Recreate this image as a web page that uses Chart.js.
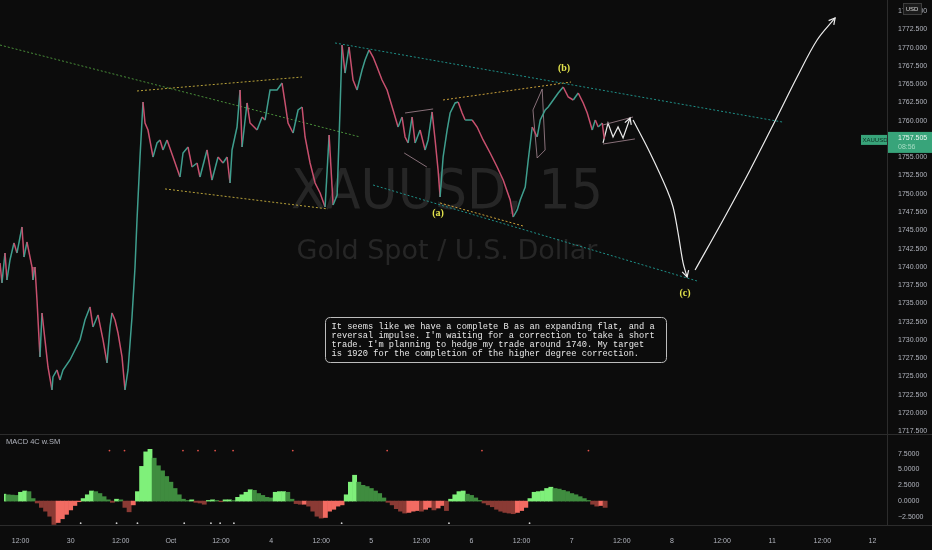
<!DOCTYPE html>
<html><head><meta charset="utf-8">
<script src="https://cdn.jsdelivr.net/npm/chart.js@4.4.1/dist/chart.umd.min.js"></script>
<style>
html,body{margin:0;padding:0;background:#0c0c0c;}
body{width:932px;height:550px;position:relative;overflow:hidden;}
canvas{position:absolute;left:0;}
#main{top:0;} #macd{top:434px;}
</style></head><body>
<canvas id="main" width="932" height="440"></canvas>
<canvas id="macd" width="932" height="116"></canvas>
<script>
// ---------- DATA ----------
// Price path (trading hours since Sep 29 00:00, price)
const priceHours = [8.04,8.51,9.23,9.70,10.42,11.37,12.09,13.28,13.76,14.47,15.67,15.90,16.38,16.86,17.57,18.05,18.76,19.48,20.43,20.67,21.63,22.34,23.06,24.72,27.11,28.30,29.49,30.21,31.40,32.60,33.55,34.27,34.74,35.46,36.17,37.13,37.84,38.56,39.51,40.23,40.70,41.42,42.13,42.61,43.32,44.52,45.47,46.19,46.90,47.86,49.29,50.95,51.67,52.86,53.82,55.01,55.72,57.39,58.58,60.02,61.21,62.17,62.88,63.36,64.55,65.27,65.74,66.94,67.65,69.32,70.51,71.23,72.42,74.09,75.28,76.00,76.71,77.91,79.10,80.06,80.77,81.96,83.16,84.35,85.54,86.50,87.45,88.41,89.10,89.58,90.30,91.25,92.21,93.16,94.35,95.07,96.02,96.98,97.93,99.12,100.32,101.75,102.94,103.89,104.61,105.33,106.28,107.00,108.19,109.38,110.10,111.05,111.77,112.48,112.96,113.68,114.63,115.35,116.54,117.26,118.21,118.93,120.60,121.79,123.22,124.89,126.56,128.00,129.67,130.39,131.34,132.06,133.25,133.97,134.92,136.11,136.83,138.02,138.74,139.93,141.12,142.31,143.51,144.70,145.89,147.08,148.04,149.23,149.95,150.66,151.62,152.10];
const priceClose = [1740.53,1737.80,1741.90,1738.20,1740.94,1743.27,1741.90,1745.45,1741.35,1743.40,1739.98,1738.20,1739.98,1735.47,1727.67,1733.69,1730.00,1726.30,1723.16,1724.93,1725.89,1724.52,1725.89,1727.26,1730.00,1732.73,1734.51,1731.78,1733.42,1730.00,1726.85,1731.78,1733.69,1732.73,1730.95,1727.67,1723.16,1725.89,1733.14,1739.98,1746.41,1755.03,1762.56,1759.68,1758.72,1755.03,1756.95,1757.36,1755.99,1757.36,1755.03,1752.29,1755.58,1756.40,1753.66,1754.21,1752.29,1755.99,1751.88,1755.03,1754.21,1755.03,1751.47,1755.99,1759.13,1764.20,1756.40,1762.42,1759.68,1758.72,1760.50,1760.09,1764.20,1764.20,1765.15,1762.42,1759.68,1758.31,1761.46,1761.87,1757.77,1754.21,1751.47,1750.11,1748.19,1758.04,1748.46,1749.83,1761.46,1770.35,1766.52,1770.08,1765.56,1764.20,1766.93,1768.30,1769.67,1768.71,1767.34,1765.56,1764.20,1761.46,1759.13,1760.50,1757.77,1756.95,1760.50,1756.95,1758.72,1755.99,1757.36,1761.19,1757.36,1753.25,1749.56,1755.03,1758.72,1761.05,1762.42,1762.56,1761.05,1760.09,1760.09,1759.13,1757.36,1755.58,1753.66,1751.88,1749.15,1746.82,1747.78,1749.15,1750.93,1754.62,1759.13,1757.77,1760.09,1761.46,1761.87,1762.83,1763.79,1764.61,1763.24,1762.83,1763.79,1762.42,1761.05,1758.72,1760.09,1759.13,1759.68,1757.50];
const lastPrice = 1757.505;
const lastTimer = '08:56';
const priceTicks = [1717.5,1720,1722.5,1725,1727.5,1730,1732.5,1735,1737.5,1740,1742.5,1745,1747.5,1750,1752.5,1755,1757.5,1760,1762.5,1765,1767.5,1770,1772.5,1775];

// Time axis
const timeTickHours = [12,24,36,48,60,72,84,96,108,120,132,144,156,168,180,192,204,216];
const timeLabels = ['12:00','30','12:00','Oct','12:00','4','12:00','5','12:00','6','12:00','7','12:00','8','12:00','11','12:00','12'];

// Drawn trend / channel lines
const channelLines = [
  {kind:'green',  h:[8.04,93.87],   p:[1770.35,1757.77]},
  {kind:'yellow', h:[40.70,80.04],  p:[1764.06,1765.97]},
  {kind:'yellow', h:[47.38,86.24],  p:[1750.66,1747.92]},
  {kind:'teal',   h:[87.91,194.5],  p:[1770.63,1759.82]},
  {kind:'teal',   h:[96.97,174.2],  p:[1751.20,1738.07]},
  {kind:'orange', h:[113.66,144.18],p:[1762.83,1765.29]},
  {kind:'orange', h:[112.95,132.74],p:[1748.74,1745.59]}
];
const boxLines = [
  {h:[104.6,111.3], p:[1761.05,1761.60]},
  {h:[104.4,109.8], p:[1755.58,1753.66]},
  {h:[135.1,137.3,138.0,136.1,135.1], p:[1761.46,1764.33,1755.99,1754.89,1761.46]},
  {h:[151.8,158.96], p:[1759.41,1760.50]},
  {h:[151.8,159.4],  p:[1756.81,1757.50]}
];
const projZigHours = [151.81,152.99,154.19,155.38,156.58,158.25];
const projZigPrices = [1756.95,1759.68,1757.77,1759.14,1757.63,1760.37];
const projDownHours = [158.96,163.02,167.07,168.5,169.69,170.89,171.84];
const projDownPrices = [1760.09,1755.58,1750.52,1748.19,1744.64,1740.53,1738.62];
const projUpHours = [173.75,180.43,186.86,193.30,198.07,202.84,207.13];
const projUpPrices = [1739.57,1746.41,1753.25,1760.50,1765.97,1771.04,1774.05];

const waveLabels = ['(a)','(b)','(c)'];
const waveHours = [112.47,142.5,171.36];
const wavePrices = [1747.37,1767.21,1736.43];

const noteLines = [
  "It seems like we have a complete B as an expanding flat, and a",
  "reversal impulse. I'm waiting for a correction to take a short",
  "trade. I'm planning to hedge my trade around 1740. My target",
  "is 1920 for the completion of the higher degree correction."
];

// MACD histogram (hourly, starting at hour 8)
const macdStartHour = 8;
const macdHist = [1.1,1.0,0.95,0.9,1.4,1.6,1.5,0.4,-0.3,-1.0,
 -1.6,-2.4,-3.7,-3.4,-2.8,-2.1,-1.4,-0.7,-0.1,0.4,
 1.0,1.6,1.5,1.2,0.7,0.2,-0.2,0.3,0.2,-1.0,
 -1.7,-0.6,1.5,5.5,7.8,8.2,6.8,5.6,4.8,3.9,
 3.0,2.0,1.0,0.3,0.1,0.2,-0.2,-0.3,-0.5,0.1,
 0.2,0.1,-0.1,0.2,0.2,0.1,0.6,1.0,1.4,1.8,
 1.7,1.2,0.9,0.6,0.5,1.4,1.5,1.5,1.4,0.3,
 -0.4,-0.5,-0.5,-0.8,-1.6,-2.4,-2.7,-2.6,-1.6,-1.3,
 -0.8,-0.6,1.0,3.0,4.1,3.0,2.5,2.3,2.0,1.6,
 1.2,0.5,-0.2,-0.6,-1.2,-1.6,-1.9,-1.8,-1.6,-1.5,
 -1.6,-1.3,-1.0,-1.4,-1.1,-0.7,-1.5,0.3,1.0,1.5,
 1.6,1.1,0.9,0.5,0.1,-0.3,-0.6,-0.9,-1.3,-1.6,
 -1.8,-1.9,-2.0,-1.8,-1.5,-1.0,0.4,1.4,1.5,1.6,
 2.0,2.2,2.0,1.9,1.7,1.5,1.2,1.0,0.7,0.4,
 0.1,-0.5,-0.8,-0.7,-1.0];
const macdTicks = [-2.5,0,2.5,5,7.5];
const sigTopHours = [33.3,36.9,50.9,54.5,58.6,62.9,77.2,99.8,122.5,148.0];
const sigBottomHours = [26.4,35.0,40.0,51.2,57.6,59.8,63.1,88.9,114.6,133.9];
const sigTopLevel = 8.0, sigBottomLevel = -3.5;

// ---------- STYLE ----------
const AXIS_TEXT = '#b2b5be';
const UP = '#3f9e8e', DOWN = '#c8506e';
const lineColors = {green:'#4a8f3a', yellow:'#b8a23a', teal:'#1f9088', orange:'#c9a03a'};
const LG='#7ff07a', DG='#3f8c3f', LR='#f26b62', DR='#8a3a34';
const X_MIN = 8.04, X_MAX = 219.5;
Chart.defaults.font.family = '"Liberation Sans", Arial, sans-serif';
Chart.defaults.color = AXIS_TEXT;

const pts = (hs, ps) => hs.map((h,i)=>({x:h, y:ps[i]}));

// ---------- MAIN CHART ----------
const mainDatasets = [];
mainDatasets.push({data: pts(priceHours, priceClose), borderWidth:1.5, pointRadius:0, tension:0,
  borderColor: UP, segment:{borderColor: c => c.p1.parsed.y >= c.p0.parsed.y ? UP : DOWN}});
channelLines.forEach(l => mainDatasets.push({data: pts(l.h,l.p), borderColor: lineColors[l.kind], borderWidth:1, borderDash:[2,2], pointRadius:0, tension:0}));
boxLines.forEach(l => mainDatasets.push({data: pts(l.h,l.p), borderColor:'#a88a96', borderWidth:0.8, pointRadius:0, tension:0}));
mainDatasets.push({data: pts(projZigHours, projZigPrices), borderColor:'#ececec', borderWidth:1.2, pointRadius:0, tension:0, arrowEnd:true});
mainDatasets.push({data: pts(projDownHours, projDownPrices), borderColor:'#ececec', borderWidth:1.2, pointRadius:0, tension:0.35, arrowEnd:true});
mainDatasets.push({data: pts(projUpHours, projUpPrices), borderColor:'#ececec', borderWidth:1.2, pointRadius:0, tension:0.35, arrowEnd:true});

function drawArrow(ctx, bx, by, ax, ay){
  const ang = Math.atan2(ay-by, ax-bx), L=7;
  ctx.beginPath();
  ctx.moveTo(ax - L*Math.cos(ang-0.5), ay - L*Math.sin(ang-0.5));
  ctx.lineTo(ax, ay);
  ctx.lineTo(ax - L*Math.cos(ang+0.5), ay - L*Math.sin(ang+0.5));
  ctx.stroke();
}
function rrect(ctx,x,y,w,h,r){
  ctx.beginPath(); ctx.moveTo(x+r,y); ctx.lineTo(x+w-r,y); ctx.quadraticCurveTo(x+w,y,x+w,y+r);
  ctx.lineTo(x+w,y+h-r); ctx.quadraticCurveTo(x+w,y+h,x+w-r,y+h); ctx.lineTo(x+r,y+h);
  ctx.quadraticCurveTo(x,y+h,x,y+h-r); ctx.lineTo(x,y+r); ctx.quadraticCurveTo(x,y,x+r,y); ctx.closePath();
}

const mainPlugin = {
  id:'mainOverlay',
  beforeDatasetsDraw(chart){
    const ctx = chart.ctx; ctx.save();
    ctx.fillStyle = '#262626'; ctx.textAlign='center'; ctx.textBaseline='middle';
    ctx.font = '56px "DejaVu Sans"'; ctx.fillText('XAUUSD, 15', 447, 193, 312);
    ctx.font = '27px "DejaVu Sans"'; ctx.fillText('Gold Spot / U.S. Dollar', 447, 252, 307);
    ctx.restore();
  },
  afterDraw(chart){
    const ctx = chart.ctx, xs = chart.scales.x, ys = chart.scales.y;
    ctx.save();
    // arrows
    ctx.strokeStyle = '#ececec'; ctx.lineWidth = 1.2;
    chart.data.datasets.forEach((ds,i)=>{
      if(!ds.arrowEnd) return;
      const d = chart.getDatasetMeta(i).data, a = d[d.length-1];
      let bx = d[d.length-2].x, by = d[d.length-2].y;
      if(ds.tension>0 && a.cp1x!==undefined && Math.hypot(a.cp1x-a.x,a.cp1y-a.y)>1){bx=a.cp1x; by=a.cp1y;}
      drawArrow(ctx,bx,by,a.x,a.y);
    });
    // wave labels
    ctx.fillStyle = '#e3e34c'; ctx.font = 'bold 10px "Liberation Serif"'; ctx.textAlign='center'; ctx.textBaseline='middle';
    waveLabels.forEach((t,i)=> ctx.fillText(t, xs.getPixelForValue(waveHours[i]), ys.getPixelForValue(wavePrices[i])));
    // note box
    rrect(ctx, 325.5, 317.5, 341, 45, 5);
    ctx.fillStyle = '#0c0c0c'; ctx.fill(); ctx.strokeStyle = '#bdbdbd'; ctx.lineWidth = 1; ctx.stroke();
    ctx.fillStyle = '#e8e8e8'; ctx.font = '8.7px "Liberation Mono"'; ctx.textAlign='left'; ctx.textBaseline='middle';
    noteLines.forEach((t,i)=> ctx.fillText(t, 331.5, 326.5 + i*9.2));
    // separators
    ctx.strokeStyle = '#2c2c2c'; ctx.lineWidth = 1;
    ctx.beginPath(); ctx.moveTo(887.5,0); ctx.lineTo(887.5,440); ctx.moveTo(0,434.5); ctx.lineTo(932,434.5); ctx.stroke();
    // USD box
    ctx.fillStyle = '#1b1b1b'; ctx.fillRect(903,3,18,11); ctx.strokeStyle='#3d3d3d'; ctx.strokeRect(903.5,3.5,18,11);
    ctx.fillStyle = '#d8d8d8'; ctx.font = '6px "Liberation Sans"'; ctx.textAlign='center'; ctx.fillText('USD', 912, 9.5);
    // last price label
    const py = ys.getPixelForValue(lastPrice);
    ctx.fillStyle = '#38a47a';
    ctx.fillRect(888, py-7, 44, 21);
    ctx.fillRect(861, py-4, 26, 10);
    ctx.textAlign='left'; ctx.font = '7px "Liberation Sans"';
    ctx.fillStyle = '#eaf7f0'; ctx.fillText(lastPrice.toFixed(3), 898, py-1);
    ctx.fillStyle = '#a6dcc3'; ctx.fillText(lastTimer, 898, py+8);
    ctx.fillStyle = '#0d2e21'; ctx.font = '6px "Liberation Sans"'; ctx.fillText('XAUUSD', 862.5, py+1);
    ctx.restore();
  }
};

new Chart(document.getElementById('main'), {
  type:'line',
  data:{datasets: mainDatasets},
  options:{
    responsive:false, animation:false, events:[],
    layout:{padding:{left:0,right:0,top:0,bottom:6}},
    plugins:{legend:{display:false}, tooltip:{enabled:false}},
    scales:{
      x:{type:'linear', display:false, min:X_MIN, max:X_MAX},
      y:{position:'right', min:1717.13, max:1776.51,
        grid:{display:false, drawTicks:false}, border:{display:false},
        afterBuildTicks: s => { s.ticks = priceTicks.map(v=>({value:v})); },
        ticks:{padding:11, color:AXIS_TEXT, font:{size:7}, callback: v => Number(v).toFixed(3)},
        afterFit: s => { s.width = 45; s.paddingTop = 0; s.paddingBottom = 0; }
      }
    }
  },
  plugins:[mainPlugin]
});

// ---------- MACD CHART ----------
const macdPts = macdHist.map((v,i)=>({x: macdStartHour + i, y: v}));
const macdPlugin = {
  id:'macdOverlay',
  afterDraw(chart){
    const ctx = chart.ctx; ctx.save();
    ctx.fillStyle = AXIS_TEXT; ctx.font = '7.5px "Liberation Sans"'; ctx.textAlign='left'; ctx.textBaseline='middle';
    ctx.fillText('MACD 4C w.SM', 6, 8);
    ctx.strokeStyle = '#2c2c2c'; ctx.lineWidth = 1;
    ctx.beginPath(); ctx.moveTo(887.5,0); ctx.lineTo(887.5,91); ctx.moveTo(0,91.5); ctx.lineTo(932,91.5); ctx.stroke();
    ctx.restore();
  }
};
new Chart(document.getElementById('macd'), {
  type:'bar',
  data:{datasets:[
    {type:'line', data: sigTopHours.map(h=>({x:h,y:sigTopLevel})), showLine:false, pointRadius:0.9, pointBorderWidth:0, pointBackgroundColor:'#e0524a'},
    {type:'line', data: sigBottomHours.map(h=>({x:h,y:sigBottomLevel})), showLine:false, pointRadius:0.9, pointBorderWidth:0, pointBackgroundColor:'#cfcfcf'},
    {type:'bar', data: macdPts, barPercentage:1, categoryPercentage:1, borderWidth:0,
      backgroundColor: c => { const i=c.dataIndex, v=macdHist[i], pv = i>0 ? macdHist[i-1] : v;
        if(v>=0) return v>=pv ? LG : DG; return v<pv ? DR : LR; }}
  ]},
  options:{
    responsive:false, animation:false, events:[],
    layout:{padding:0},
    plugins:{legend:{display:false}, tooltip:{enabled:false}},
    scales:{
      x:{type:'linear', min:X_MIN, max:X_MAX, offset:false,
        grid:{display:false, drawTicks:false}, border:{display:false},
        afterBuildTicks: s => { s.ticks = timeTickHours.map(v=>({value:v})); },
        ticks:{autoSkip:false, maxRotation:0, padding:12, color:AXIS_TEXT, font:{size:7}, callback:(v,i)=>timeLabels[i]},
        afterFit: s => { s.height = 25; s.paddingLeft = 0; s.paddingRight = 0; }
      },
      y:{position:'right', min:-3.79, max:10.0,
        grid:{display:false, drawTicks:false}, border:{display:false},
        afterBuildTicks: s => { s.ticks = macdTicks.map(v=>({value:v})); },
        ticks:{padding:11, color:AXIS_TEXT, font:{size:7}, callback: v => (v<0 ? '\u2212' + Math.abs(v).toFixed(4) : Number(v).toFixed(4))},
        afterFit: s => { s.width = 45; s.paddingTop = 0; s.paddingBottom = 0; }
      }
    }
  },
  plugins:[macdPlugin]
});
</script>
</body></html>
